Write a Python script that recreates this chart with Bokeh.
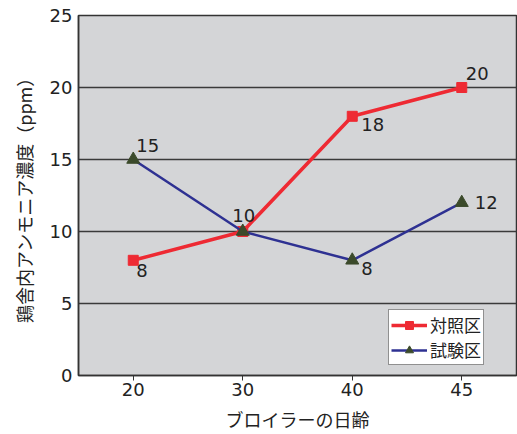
from bokeh.plotting import figure
from bokeh.models import ColumnDataSource, Legend, LegendItem, FactorRange, FixedTicker
from bokeh.embed import file_html
from bokeh.resources import INLINE
from bokeh.core.properties import value

days = ["20", "30", "40", "45"]
control = [8, 10, 18, 20]
trial = [15, 10, 8, 12]

FONT = "Noto Sans CJK JP"
NUM = "DejaVu Sans"

p = figure(width=517, height=434, x_range=FactorRange(*days), y_range=(0, 25),
           output_backend="svg", toolbar_location=None,
           min_border_left=78, min_border_right=1, min_border_top=15, min_border_bottom=55)
p.background_fill_color = "#d4d5d7"
p.border_fill_color = "white"
p.outline_line_color = "#333333"
p.outline_line_width = 1.5

p.xgrid.grid_line_color = None
p.ygrid.grid_line_color = "#3a3a3a"
p.ygrid.grid_line_width = 1.5
p.yaxis.ticker = FixedTicker(ticks=[0, 5, 10, 15, 20, 25])

for ax in (p.xaxis, p.yaxis):
    ax.axis_line_color = "#333333"
    ax.axis_line_width = 1.5
    ax.major_label_text_font = NUM
    ax.major_label_text_font_size = "18px"
    ax.major_label_text_color = "#222222"
    ax.axis_label_text_font = FONT
    ax.axis_label_text_font_style = "normal"
    ax.axis_label_text_color = "#222222"
    ax.minor_tick_line_color = None
    ax.major_tick_line_color = "#333333"

p.yaxis.axis_label_text_font_size = "18px"
p.xaxis.axis_label_text_font_size = "18px"
p.yaxis.major_tick_out = 0
p.yaxis.major_tick_in = 0
p.yaxis.major_label_standoff = 6
p.xaxis.major_tick_out = 5
p.xaxis.major_tick_in = 0
p.xaxis.major_label_standoff = 2
p.yaxis.axis_label = "鶏舎内アンモニア濃度（ppm）"
p.xaxis.axis_label = "ブロイラーの日齢"
p.yaxis.axis_label_standoff = 10
p.xaxis.axis_label_standoff = 7

src_c = ColumnDataSource(dict(x=days, y=control))
src_t = ColumnDataSource(dict(x=days, y=trial))

RED = "#ee2a33"
BLUE = "#2e3192"
GREEN = "#3b4a2a"

lc = p.line("x", "y", source=src_c, line_color=RED, line_width=3.5)
mc = p.scatter("x", "y", source=src_c, marker="square", size=10, fill_color=RED, line_color=RED)
lt = p.line("x", "y", source=src_t, line_color=BLUE, line_width=2.5)
mt = p.scatter("x", "y", source=src_t, marker="triangle", size=13, fill_color=GREEN, line_color=GREEN)

# data labels: (series, index, x_offset, y_offset, align, baseline)
label_specs = [
    (control, 0, 3, 4, "left", "top"),
    (control, 1, 1, -10, "center", "bottom"),
    (control, 2, 9, 2, "left", "top"),
    (control, 3, 4, -8, "left", "bottom"),
    (trial, 0, 3, -8, "left", "bottom"),
    (trial, 2, 9, 2, "left", "top"),
    (trial, 3, 13, 0, "left", "middle"),
]
for series, i, xo, yo, al, bl in label_specs:
    p.text(x=[days[i]], y=[series[i]], text=[str(series[i])], x_offset=xo, y_offset=yo,
           text_align=al, text_baseline=bl, text_font=value(NUM),
           text_font_size="18px", text_color="#222222")

legend = Legend(items=[LegendItem(label="対照区", renderers=[lc, mc]),
                       LegendItem(label="試験区", renderers=[lt, mt])],
                location=(310, 10))
legend.label_text_font = FONT
legend.label_text_font_size = "17px"
legend.label_text_color = "#222222"
legend.glyph_width = 36
legend.glyph_height = 20
legend.label_standoff = 3
legend.label_height = 20
legend.spacing = 0
legend.padding = 2
legend.margin = 0
legend.border_line_color = "#222222"
legend.border_line_width = 1.5
legend.background_fill_color = "white"
legend.background_fill_alpha = 1
p.add_layout(legend)

open("out.html", "w").write(file_html(p, INLINE))
